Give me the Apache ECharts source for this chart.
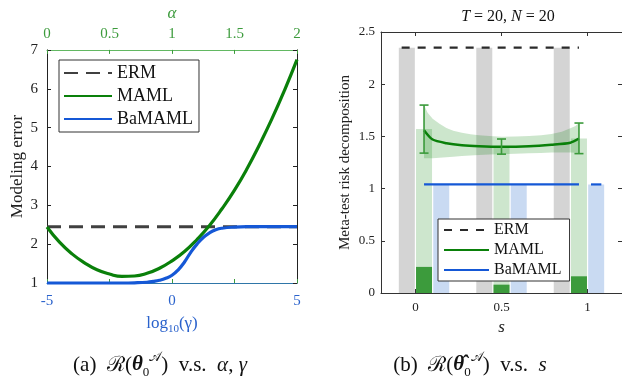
<!DOCTYPE html>
<html>
<head>
<meta charset="utf-8">
<script src="https://cdn.jsdelivr.net/npm/echarts@6/dist/echarts.min.js"></script>
<style>
  html, body { margin: 0; padding: 0; background: #fff; }
  #chart { width: 622px; height: 376px; }
</style>
</head>
<body>
<div id="chart"></div>
<script>
// ---------- 左图 (a)：建模误差 vs alpha / log10(gamma) ----------
var alphaVals = [0, 0.1, 0.2, 0.3, 0.4, 0.5, 0.6, 0.7, 0.8, 0.9, 1.0, 1.1, 1.2, 1.3, 1.4, 1.5, 1.6, 1.7, 1.8, 1.9, 2.0];
var mamlErr = [2.44, 2.05, 1.75, 1.52, 1.34, 1.23, 1.17, 1.18, 1.25, 1.38, 1.57, 1.81, 2.12, 2.48, 2.91, 3.39, 3.94, 4.56, 5.23, 5.96, 6.75];
var logGamma = [-5, -4, -3, -2.5, -2, -1.5, -1, -0.75, -0.5, -0.25, 0, 0.25, 0.5, 0.75, 1, 1.25, 1.5, 1.75, 2, 2.5, 3, 4, 5];
var bamamlErr = [1, 1, 1, 1, 1, 1.005, 1.02, 1.04, 1.07, 1.12, 1.2, 1.34, 1.54, 1.79, 2.0, 2.17, 2.29, 2.37, 2.41, 2.44, 2.45, 2.45, 2.45];
var ermErr = 2.45;

// ---------- 右图 (b)：风险分解 vs s ----------
var sTicks = [0, 0.5, 1];
var ermBarX = [-0.05, 0.4, 0.85];
var ermBar = [2.35, 2.35, 2.35];
var mamlBarX = [0.05, 0.5, 0.95];
var mamlBar = [1.57, 1.40, 1.48];
var mamlBarDark = [0.25, 0.08, 0.16];
var bamamlBarX = [0.15, 0.6, 1.05];
var bamamlBar = [1.04, 1.04, 1.04];

var ermLineS = [-0.08, 0.95];
var ermRisk = 2.35;
var mamlS = [0.05, 0.1, 0.18, 0.27, 0.37, 0.5, 0.66, 0.79, 0.9, 0.95];
var mamlRisk = [1.56, 1.47, 1.435, 1.415, 1.405, 1.40, 1.405, 1.42, 1.44, 1.48];
var bandS = [0.05, 0.07, 0.1, 0.14, 0.18, 0.22, 0.27, 0.32, 0.37, 0.43, 0.5, 0.58, 0.66, 0.73, 0.79, 0.85, 0.9, 0.93, 0.95];
var bandUpper = [1.80, 1.73, 1.67, 1.62, 1.58, 1.555, 1.535, 1.52, 1.51, 1.503, 1.497, 1.499, 1.504, 1.512, 1.523, 1.545, 1.578, 1.60, 1.628];
var bandLower = [1.29, 1.29, 1.29, 1.295, 1.30, 1.306, 1.312, 1.317, 1.322, 1.326, 1.33, 1.334, 1.338, 1.342, 1.345, 1.346, 1.345, 1.343, 1.34];
var errS = [0.05, 0.5, 0.95];
var errLo = [1.34, 1.33, 1.335];
var errHi = [1.80, 1.475, 1.628];
var bamamlLineS = [0.05, 0.95];
var bamamlExtraS = [1.02, 1.08];
var bamamlRisk = 1.04;

var FONT = '"Liberation Serif", "DejaVu Serif", serif';
var GREEN = '#0a800a';
var BLUE = '#1558d6';

function zip(xs, ys) {
  return xs.map(function (x, i) { return [x, ys[i]]; });
}
function flat(xs, v) {
  return xs.map(function (x) { return [x, v]; });
}

var chart = echarts.init(document.getElementById('chart'), null, { renderer: 'canvas' });

var inTick = function (color) {
  return { show: true, inside: true, length: 4, lineStyle: { color: color } };
};
var capRich = {
  c: { fontFamily: FONT, fontSize: 21, lineHeight: 28, color: '#111' },
  t: { fontFamily: FONT, fontSize: 21, fontWeight: 'bold', fontStyle: 'italic', lineHeight: 28, color: '#111' },
  sub: { fontFamily: FONT, fontSize: 13, verticalAlign: 'bottom', lineHeight: 28, color: '#111' },
  sup: { fontFamily: FONT, fontSize: 13, verticalAlign: 'top', lineHeight: 28, color: '#111' },
  i: { fontFamily: FONT, fontSize: 21, fontStyle: 'italic', lineHeight: 28, color: '#111' }
};

var option = {
  animation: false,
  backgroundColor: '#fff',
  textStyle: { fontFamily: FONT },
  title: [
    {
      text: '{i|T} = 20, {i|N} = 20',
      left: 503, top: 4, textAlign: 'center',
      textStyle: {
        fontFamily: FONT, fontSize: 16, fontWeight: 'normal', color: '#111',
        rich: { i: { fontFamily: FONT, fontSize: 16, fontStyle: 'italic', color: '#111' } }
      }
    },
    {
      text: '(a)  {c|ℛ}({t|θ}{sub|0}{sup|𝒜})  v.s.  {i|α}, {i|γ}',
      left: 155, top: 346, textAlign: 'center',
      textStyle: { fontFamily: FONT, fontSize: 21, fontWeight: 'normal', color: '#111', lineHeight: 28, rich: capRich }
    },
    {
      text: '(b)  {c|ℛ}({t|θ̂}{sub|0}{sup|𝒜})  v.s.  {i|s}',
      left: 465, top: 346, textAlign: 'center',
      textStyle: { fontFamily: FONT, fontSize: 21, fontWeight: 'normal', color: '#111', lineHeight: 28, rich: capRich }
    }
  ],
  legend: [
    {
      orient: 'vertical', left: 59, top: 60,
      padding: [4, 6, 4, 4], itemWidth: 48, itemHeight: 12, itemGap: 5,
      borderColor: '#333', borderWidth: 1, backgroundColor: '#fff',
      itemStyle: { opacity: 0 },
      data: ['ERM', 'MAML', 'BaMAML'],
      textStyle: { fontFamily: FONT, fontSize: 18, color: '#111' },
      selectedMode: false, z: 10
    },
    {
      orient: 'vertical', left: 438, top: 219,
      padding: [3, 8, 3, 5], itemWidth: 45, itemHeight: 10, itemGap: 4,
      borderColor: '#333', borderWidth: 1, backgroundColor: '#fff',
      itemStyle: { opacity: 0 },
      data: ['ERM (b)', 'MAML (b)', 'BaMAML (b)'],
      formatter: function (n) { return n.replace(' (b)', ''); },
      textStyle: { fontFamily: FONT, fontSize: 16, color: '#111' },
      selectedMode: false, z: 10
    }
  ],
  grid: [
    { left: 47, top: 47, width: 250, height: 236 },
    { left: 381, top: 32, width: 243, height: 261 }
  ],
  xAxis: [
    {
      gridIndex: 0, type: 'value', position: 'bottom', min: -5, max: 5, interval: 5,
      axisLine: { onZero: false, lineStyle: { color: '#2f76a8', width: 1 } },
      axisTick: inTick('#2a62cc'),
      axisLabel: { color: '#2a62cc', fontSize: 15, margin: 11, fontFamily: FONT },
      splitLine: { show: false },
      name: '{n|log}{s|10}{n|(γ)}', nameLocation: 'middle', nameGap: 30,
      nameTextStyle: {
        color: '#2a62cc',
        rich: {
          n: { fontFamily: FONT, fontSize: 17, color: '#2a62cc', lineHeight: 22 },
          s: { fontFamily: FONT, fontSize: 11, color: '#2a62cc', verticalAlign: 'bottom', lineHeight: 22 }
        }
      }
    },
    {
      gridIndex: 0, type: 'value', position: 'top', min: 0, max: 2, interval: 0.5,
      axisLine: { onZero: false, lineStyle: { color: '#62b862', width: 1.2 } },
      axisTick: inTick('#3c9b3c'),
      axisLabel: { color: '#3c9b3c', fontSize: 15, margin: 8, fontFamily: FONT },
      splitLine: { show: false },
      name: 'α', nameLocation: 'middle', nameGap: 27,
      nameTextStyle: { color: '#3c9b3c', fontSize: 17, fontStyle: 'italic', fontFamily: FONT }
    },
    {
      gridIndex: 0, type: 'value', position: 'bottom', min: 0, max: 2, interval: 0.5,
      axisLine: { show: false, onZero: false },
      axisTick: inTick('#3c9b3c'),
      axisLabel: { show: false },
      splitLine: { show: false }
    },
    {
      gridIndex: 1, type: 'value', position: 'bottom', min: -0.2, max: 1.2,
      axisLine: { onZero: false, lineStyle: { color: '#333' } },
      axisTick: { show: true, inside: true, length: 4, customValues: sTicks, lineStyle: { color: '#333' } },
      axisLabel: { customValues: sTicks, color: '#222', fontSize: 13, margin: 8, fontFamily: FONT },
      splitLine: { show: false },
      name: 's', nameLocation: 'middle', nameGap: 25,
      nameTextStyle: { color: '#222', fontSize: 17, fontStyle: 'italic', fontFamily: FONT }
    },
    {
      gridIndex: 1, type: 'value', position: 'top', min: -0.2, max: 1.2,
      axisLine: { onZero: false, lineStyle: { color: '#333' } },
      axisTick: { show: true, inside: true, length: 4, customValues: sTicks, lineStyle: { color: '#333' } },
      axisLabel: { show: false },
      splitLine: { show: false }
    }
  ],
  yAxis: [
    {
      gridIndex: 0, type: 'value', position: 'left', min: 1, max: 7, interval: 1,
      axisLine: { show: true, onZero: false, lineStyle: { color: '#222' } },
      axisTick: inTick('#222'),
      axisLabel: { color: '#222', fontSize: 15, margin: 9, fontFamily: FONT },
      splitLine: { show: false },
      name: 'Modeling error', nameLocation: 'middle', nameGap: 21,
      nameTextStyle: { color: '#222', fontSize: 17, fontFamily: FONT }
    },
    {
      gridIndex: 0, type: 'value', position: 'right', min: 1, max: 7, interval: 1,
      axisLine: { show: true, onZero: false, lineStyle: { color: '#222' } },
      axisTick: inTick('#222'),
      axisLabel: { show: false },
      splitLine: { show: false }
    },
    {
      gridIndex: 1, type: 'value', position: 'left', min: 0, max: 2.5, interval: 0.5,
      axisLine: { show: true, onZero: false, lineStyle: { color: '#333' } },
      axisTick: inTick('#333'),
      axisLabel: { color: '#222', fontSize: 13, margin: 6, fontFamily: FONT },
      splitLine: { show: false },
      name: 'Meta-test risk decomposition', nameLocation: 'middle', nameGap: 28,
      nameTextStyle: { color: '#222', fontSize: 15, fontFamily: FONT }
    },
    {
      gridIndex: 1, type: 'value', position: 'right', min: 0, max: 2.5, interval: 0.5,
      axisLine: { show: true, onZero: false, lineStyle: { color: '#333' } },
      axisTick: inTick('#333'),
      axisLabel: { show: false },
      splitLine: { show: false }
    }
  ],
  series: [
    // 左图
    {
      name: 'ERM', type: 'line', xAxisIndex: 0, yAxisIndex: 0,
      data: [[-5, ermErr], [5, ermErr]], symbol: 'none', clip: false,
      lineStyle: { color: '#404040', width: 3, type: [14, 8] }, itemStyle: { color: '#404040' }
    },
    {
      name: 'MAML', type: 'line', xAxisIndex: 1, yAxisIndex: 0,
      data: zip(alphaVals, mamlErr), symbol: 'none', smooth: true, clip: false,
      lineStyle: { color: GREEN, width: 3.2 }, itemStyle: { color: GREEN }
    },
    {
      name: 'BaMAML', type: 'line', xAxisIndex: 0, yAxisIndex: 0,
      data: zip(logGamma, bamamlErr), symbol: 'none', smooth: true, clip: false,
      lineStyle: { color: BLUE, width: 3.2 }, itemStyle: { color: BLUE }
    },
    // 右图：柱状
    {
      type: 'bar', xAxisIndex: 3, yAxisIndex: 2, data: zip(ermBarX, ermBar),
      barWidth: 16, barGap: '-100%', itemStyle: { color: '#d4d4d4' }
    },
    {
      type: 'bar', xAxisIndex: 3, yAxisIndex: 2, data: zip(mamlBarX, mamlBar),
      barWidth: 16, barGap: '-100%', itemStyle: { color: '#cde6cd' }
    },
    {
      type: 'bar', xAxisIndex: 3, yAxisIndex: 2, data: zip(mamlBarX, mamlBarDark),
      barWidth: 16, barGap: '-100%', itemStyle: { color: '#3c9b3c' }
    },
    {
      type: 'bar', xAxisIndex: 3, yAxisIndex: 2, data: zip(bamamlBarX, bamamlBar),
      barWidth: 16, barGap: '-100%', itemStyle: { color: '#c9daf2' }
    },
    // 误差带（多边形）
    {
      type: 'custom', xAxisIndex: 3, yAxisIndex: 2, z: 3,
      data: bandS.map(function (s, i) { return [s, bandLower[i], bandUpper[i]]; }),
      encode: { x: 0, y: [1, 2] },
      renderItem: function (params, api) {
        if (params.dataIndex !== 0) return;
        var pts = [];
        bandS.forEach(function (s, i) { pts.push(api.coord([s, bandUpper[i]])); });
        for (var i = bandS.length - 1; i >= 0; i--) pts.push(api.coord([bandS[i], bandLower[i]]));
        return { type: 'polygon', shape: { points: pts }, style: { fill: 'rgba(0,128,0,0.2)' } };
      }
    },
    {
      name: 'ERM (b)', type: 'line', xAxisIndex: 3, yAxisIndex: 2, z: 4,
      data: flat(ermLineS, ermRisk), symbol: 'none',
      lineStyle: { color: '#2a2a2a', width: 2.2, type: [8, 8] }, itemStyle: { color: '#2a2a2a' }
    },
    {
      name: 'MAML (b)', type: 'line', xAxisIndex: 3, yAxisIndex: 2, z: 4,
      data: zip(mamlS, mamlRisk), symbol: 'none', smooth: 0.25,
      lineStyle: { color: GREEN, width: 2.5 }, itemStyle: { color: GREEN }
    },
    {
      type: 'custom', xAxisIndex: 3, yAxisIndex: 2, z: 6,
      data: errS.map(function (s, i) { return [s, errLo[i], errHi[i]]; }),
      encode: { x: 0, y: [1, 2] },
      renderItem: function (params, api) {
        var lo = api.coord([api.value(0), api.value(1)]);
        var hi = api.coord([api.value(0), api.value(2)]);
        var w = 4.5;
        var st = { stroke: '#3a9a3a', lineWidth: 1.6, fill: null };
        return {
          type: 'group',
          children: [
            { type: 'line', shape: { x1: lo[0], y1: lo[1], x2: hi[0], y2: hi[1] }, style: st },
            { type: 'line', shape: { x1: lo[0] - w, y1: lo[1], x2: lo[0] + w, y2: lo[1] }, style: st },
            { type: 'line', shape: { x1: hi[0] - w, y1: hi[1], x2: hi[0] + w, y2: hi[1] }, style: st }
          ]
        };
      }
    },
    {
      name: 'BaMAML (b)', type: 'line', xAxisIndex: 3, yAxisIndex: 2, z: 4,
      data: flat(bamamlLineS, bamamlRisk), symbol: 'none',
      lineStyle: { color: BLUE, width: 2.2 }, itemStyle: { color: BLUE }
    },
    {
      type: 'line', xAxisIndex: 3, yAxisIndex: 2, z: 4,
      data: flat(bamamlExtraS, bamamlRisk), symbol: 'none',
      lineStyle: { color: BLUE, width: 2.2 }
    }
  ]
};

chart.setOption(option);
</script>
</body>
</html>
